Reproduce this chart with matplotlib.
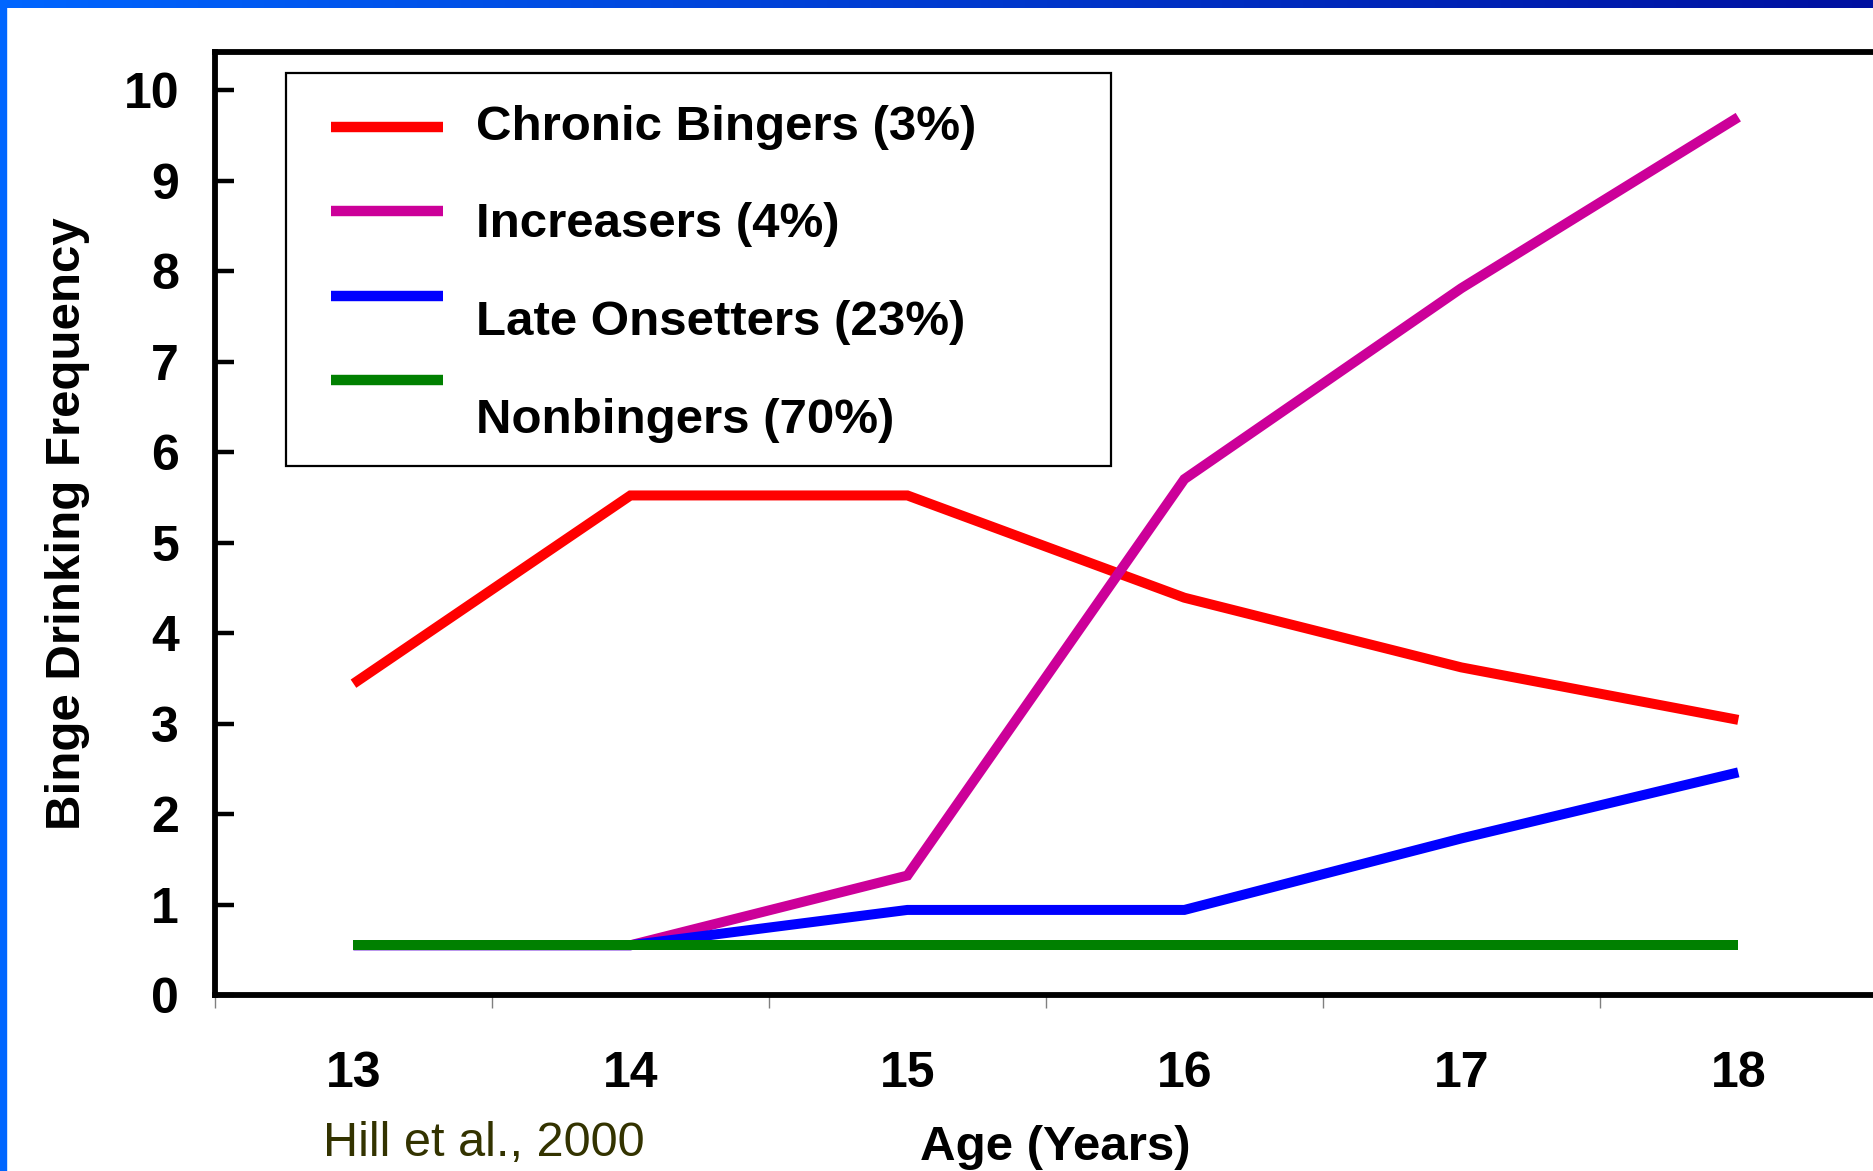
import numpy as np
import matplotlib.pyplot as plt
from matplotlib.lines import Line2D
from matplotlib.patches import Rectangle

# ---------------------------------------------------------
# data
# ---------------------------------------------------------
ages = ["13", "14", "15", "16", "17", "18"]

chronic = [3.44, 5.52, 5.52, 4.39, 3.62, 3.04]
increasers = [0.55, 0.55, 1.32, 5.70, 7.81, 9.70]
late_onset = [0.55, 0.55, 0.94, 0.94, 1.73, 2.46]
nonbingers = [0.55, 0.55, 0.55, 0.55, 0.55, 0.55]

labels = ["Chronic Bingers (3%)", "Increasers (4%)",
          "Late Onsetters (23%)", "Nonbingers (70%)"]
colors = ["#FF0000", "#CC0099", "#0000FF", "#008000"]
series = [chronic, increasers, late_onset, nonbingers]

plt.rcParams["font.family"] = ["Liberation Sans", "DejaVu Sans"]

W, H = 1874, 1171
fig = plt.figure(figsize=(W / 100, H / 100), dpi=100)

# blue slide frame: gradient bar on top, solid strip on left
bar = fig.add_axes([0, 1 - 8 / H, 1, 8 / H])
grad = np.linspace(0, 1, 256)[None, :]
c0 = np.array([0x00, 0x66, 0xFF]) / 255
c1 = np.array([0x00, 0x10, 0xA0]) / 255
img = c0[None, None, :] * (1 - grad[..., None]) + c1[None, None, :] * grad[..., None]
bar.imshow(img, aspect="auto")
bar.axis("off")
fig.add_artist(Rectangle((0, 0), 6 / W, 1, transform=fig.transFigure,
                         color="#0066FF", zorder=5))

# main axes
left, bottom, top = 215 / W, (H - 995) / H, (H - 52) / H
ax = fig.add_axes([left, bottom, 1 - left, top - bottom])

x = np.arange(len(ages))
for vals, col, lab in zip(series, colors, labels):
    ax.plot(x, vals, color=col, lw=7.2, solid_capstyle="butt",
            solid_joinstyle="miter", label=lab, clip_on=False)

ax.set_xlim(-0.5, 5.49)
ax.set_ylim(0, 10.42)

for s in ["left", "top", "bottom"]:
    ax.spines[s].set_linewidth(4.2)
ax.spines["right"].set_visible(False)

ax.set_yticks(range(0, 11))
ax.tick_params(axis="y", direction="in", length=14, width=3.2,
               labelsize=36, pad=26)
for t in ax.get_yticklabels():
    t.set_fontweight("bold")

ax.set_xticks(x)
ax.set_xticklabels(ages, fontsize=36, fontweight="bold")
ax.tick_params(axis="x", which="major", length=0, pad=40)
ax.set_xticks(np.arange(-0.5, 5.5, 1.0), minor=True)
ax.tick_params(axis="x", which="minor", direction="out", length=9,
               width=1, color="#808080")

ax.set_ylabel("Binge Drinking Frequency", fontsize=35.5, fontweight="bold",
              labelpad=24)

fig.text(1055 / W, 1 - 1147 / H, "Age (Years)", fontsize=35.5,
         fontweight="bold", ha="center", va="center")
fig.text(323 / W, 1 - 1143 / H, "Hill et al., 2000", fontsize=35,
         color="#333300", ha="left", va="center")

# legend box drawn by hand so the lines sit like the original
fig.add_artist(Rectangle((286 / W, 1 - 466 / H), (1111 - 286) / W,
                         (466 - 73) / H, transform=fig.transFigure,
                         fill=True, facecolor="white", edgecolor="black",
                         lw=1.6, zorder=6))
for i, (col, lab) in enumerate(zip(colors, labels)):
    ly = 1 - (127 + i * 84.3) / H
    ty = 1 - (127 + i * 97.7) / H
    fig.add_artist(Line2D([331 / W, 443 / W], [ly, ly], transform=fig.transFigure,
                          color=col, lw=7.5, solid_capstyle="butt", zorder=7))
    fig.text(476 / W, ty, lab, fontsize=35.5, fontweight="bold",
             ha="left", va="center", zorder=7)

fig.savefig("out.png", dpi=100)
